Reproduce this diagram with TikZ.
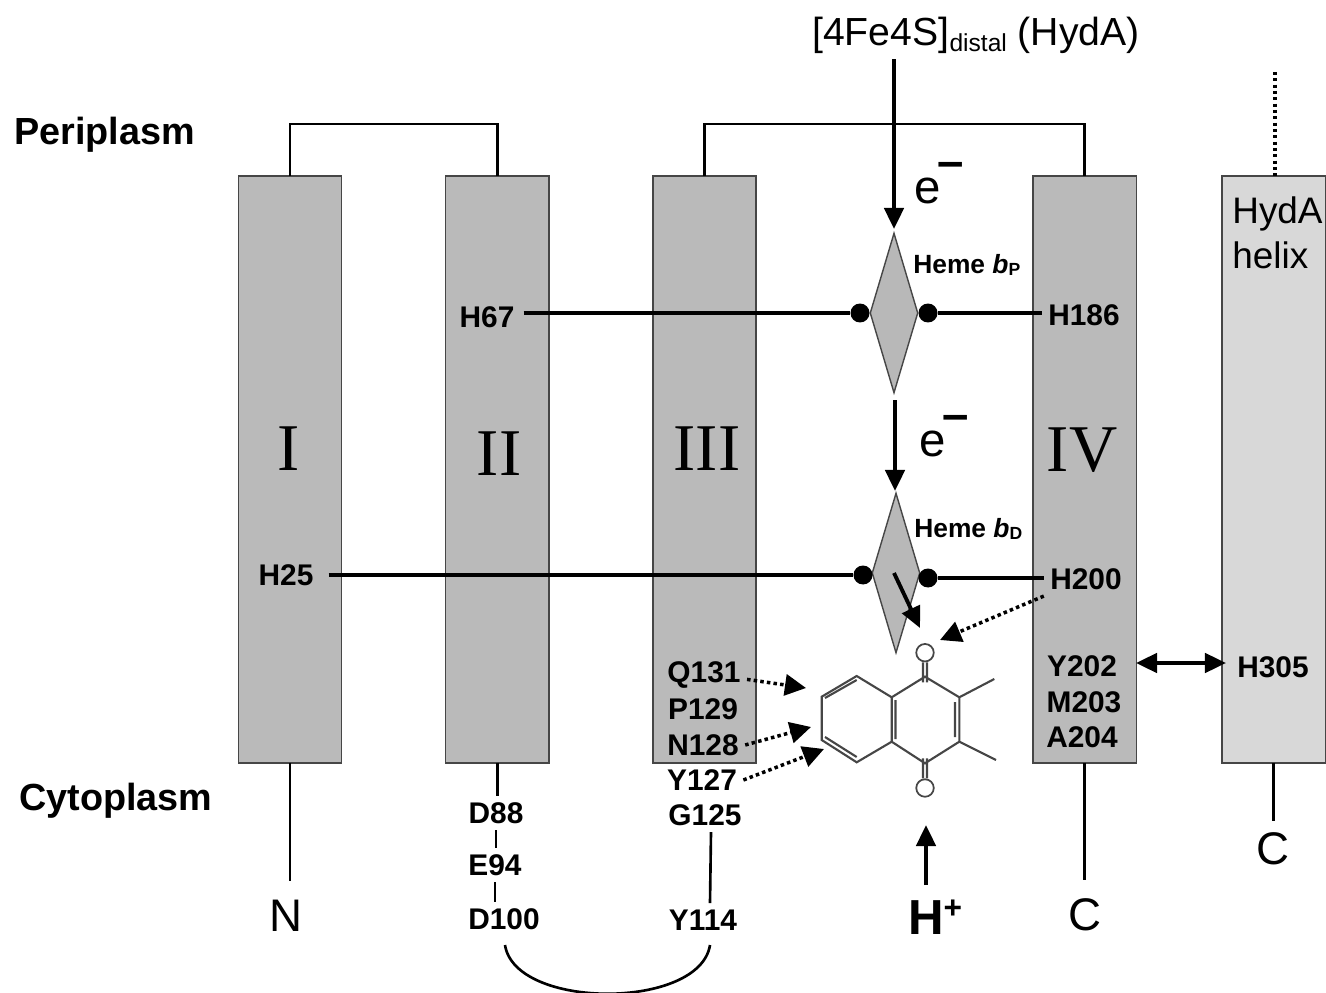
\documentclass[tikz,border=0pt]{standalone}
\usepackage{fontspec}
\setmainfont{Liberation Sans}
\newfontfamily\romanfont{Liberation Serif}
\usetikzlibrary{positioning,arrows.meta,shapes}
\definecolor{helixgray}{RGB}{186,186,186}
\definecolor{hydagray}{RGB}{216,216,216}
\definecolor{hemegray}{RGB}{184,184,184}
\definecolor{edgegray}{RGB}{70,70,70}
\newcommand{\eminus}{e\kern-2pt\raisebox{14.5pt}{\textbf{–}}}
\newcommand{\hemelabel}[1]{Heme \textit{b}{\fontsize{10}{10}\selectfont\raisebox{-1.5pt}{#1}}}

\begin{document}
\begin{tikzpicture}[
      x=0.02cm, y=-0.02cm,
      node distance=2.08cm,
      helix/.style={rectangle, draw=edgegray, line width=0.8pt, fill=helixgray, outer sep=0pt,
                    minimum width=2.065cm, minimum height=11.74cm},
      heme/.style={diamond, draw=edgegray, line width=0.8pt, fill=hemegray, inner sep=0pt,
                   minimum width=0.96cm, minimum height=3.2cm},
      hemedot/.style={circle, fill=black, inner sep=0pt, minimum size=0.38cm},
      residue/.style={font=\fontsize{17}{20}\selectfont\bfseries, inner sep=3.5pt},
      region/.style={font=\fontsize{21.5}{25}\selectfont\bfseries, anchor=west, inner sep=0pt},
      numeral/.style={font=\fontsize{38}{40}\selectfont\romanfont},
      plain/.style={font=\fontsize{26}{30}\selectfont, outer sep=7.5pt},
      heading/.style={font=\fontsize{22.3}{27}\selectfont},
      loopline/.style={line width=1.5pt},
      linkline/.style={line width=2.2pt},
      bond/.style={line width=1.2pt, edgegray},
      arrow/.style={-{Triangle[length=12pt,width=11pt]}, line width=2.2pt},
      dotarrow/.style={-{Triangle[length=12pt,width=12pt]}, line width=2pt,
                       dash pattern=on 2pt off 1.8pt},
      oxygen/.style={circle, draw=edgegray, line width=1pt, fill=white, inner sep=0pt, minimum size=0.35cm}
    ]
    \useasboundingbox (0,0) rectangle (1326,993);

    % --- Helices ---
    \node[helix] (helixI) at (290,469.5) {};
    \node[helix, right=of helixI] (helixII) {};
    \node[helix, right=of helixII] (helixIII) {};
    \node[helix, right=5.54cm of helixIII] (helixIV) {};
    \node[helix, fill=hydagray, right=1.72cm of helixIV] (helixA) {};

    \node[numeral] (numI) at (289,449) {I};
    \node[numeral] (numII) at (499,454) {II};
    \node[numeral] (numIII) at (707,449) {III};
    \node[numeral] (numIV) at (1082,450) {IV};
    \node[font=\fontsize{21}{25.5}\selectfont, align=left, anchor=west, inner sep=0pt] (hydahelix) at (1232,233) {HydA\\helix};

    % --- Region labels ---
    \node[region] (peri) at (14,135) {Periplasm};
    \node[region] (cyto) at (19,801) {Cytoplasm};
    \node[heading] (cluster) at (976,35) {[4Fe4S]{\fontsize{14}{14}\selectfont\raisebox{-3.5pt}{distal}} (HydA)};

    % --- Residues ---
    \node[residue] (h67) at (487,317) {H67};
    \node[residue] (h25) at (286,575) {H25};
    \node[residue] (h186) at (1084,315) {H186};
    \node[residue] (h200) at (1086,579) {H200};
    \node[residue] (y202) at (1082,666) {Y202};
    \node[residue] (m203) at (1084,702) {M203};
    \node[residue] (a204) at (1082,737) {A204};
    \node[residue] (h305) at (1273,667) {H305};
    \node[residue] (q131) at (704,675) {Q131};
    \node[residue] (p129) at (703,709) {P129};
    \node[residue] (n128) at (703,745) {N128};
    \node[residue] (y127) at (702,780) {Y127};
    \node[residue] (g125) at (705,815) {G125};
    \node[residue] (y114) at (703,920) {Y114};
    \node[residue] (d88) at (496,813) {D88};
    \node[residue] (e94) at (495,865) {E94};
    \node[residue] (d100) at (504,919) {D100};

    % --- Termini ---
    \node[plain] (termN) at (286,916) {N};
    \node[plain] (termC) at (1085,915) {C};
    \node[plain, outer sep=3.5pt] (termA) at (1273,849) {C};
    \node[font=\fontsize{28}{32}\selectfont\bfseries] (proton) at (935,917) {H\raisebox{9pt}{\fontsize{18}{18}\selectfont +}};

    % --- Loops ---
    \draw[loopline] (helixI.north) -- ++(0,-52) -| (helixII.north);
    \draw[loopline] (helixIII.north) -- ++(0,-52) -| (helixIV.north);
    \coordinate (hydatop) at (1275,72);
    \draw[line width=1.8pt, dash pattern=on 1.8pt off 1.8pt] (hydatop) -- (hydatop |- helixA.north);
    \draw[loopline] (helixI.south) -- (helixI.south |- termN.north);
    \draw[loopline] (helixII.south) -- (d88.north -| helixII.south);
    \draw[loopline] (d88.south) -- (d88.south |- e94.north);
    \draw[loopline] (e94.south) -- (e94.south |- d100.north);
    \draw[loopline] (g125.south -| 711,0) -- (y114.north -| 710,0);
    \draw[loopline] (helixIV.south) -- (helixIV.south |- termC.north);
    \draw[loopline] (helixA.south) -- (helixA.south |- termA.north);
    \coordinate (loopL) at (505,945);
    \coordinate (loopR) at (710,945);
    \draw[loopline] (loopL) .. controls (515,1010) and (700,1010) .. (loopR);

    % --- Hemes ---
    \node[heme] (hemeP) at (894,313) {};
    \node[heme] (hemeD) at (896,573) {};
    \node[hemedot] (dotPl) at (860,313) {};
    \node[hemedot] (dotPr) at (928,313) {};
    \node[hemedot] (dotDl) at (863,575) {};
    \node[hemedot] (dotDr) at (928,578) {};
    \node[font=\fontsize{15}{18}\selectfont\bfseries, anchor=west, inner sep=0pt] (labelP) at (913,265) {\hemelabel{P}};
    \node[font=\fontsize{15}{18}\selectfont\bfseries, anchor=west, inner sep=0pt] (labelD) at (914,529) {\hemelabel{D}};

    \draw[linkline] ([xshift=1.5pt]h67.east |- dotPl) -- (dotPl);
    \draw[linkline] (dotPr) -- (dotPr -| h186.west);
    \draw[linkline] ([xshift=5pt]h25.east) -- (dotDl);
    \draw[linkline] (dotDr) -- (dotDr -| h200.west);

    % --- Quinone ---
    \coordinate (c1) at (821.7,696.7);
    \coordinate (c2) at (856.7,676);
    \coordinate (c3) at (891.7,697.3);
    \coordinate (c4) at (891.7,741.7);
    \coordinate (c5) at (856.7,762.3);
    \coordinate (c6) at (821.7,740);
    \coordinate (c7) at (925,676.7);
    \coordinate (c8) at (959.3,697.3);
    \coordinate (c9) at (959.3,741.7);
    \coordinate (c10) at (925,763.3);
    \coordinate (me1) at (994.3,679);
    \coordinate (me2) at (996,760);
    \node[oxygen] (oxtop) at (925,652.7) {};
    \node[oxygen] (oxbot) at (925,788) {};
    \draw[bond] (c1) -- (c2) -- (c3) -- (c4) -- (c5) -- (c6) -- cycle
      (c3) -- (c7) -- (c8) -- (c9) -- (c10) -- (c4)
      (c8) -- (me1) (c9) -- (me2)
      (825,698) -- (856.7,680) (825,737) -- (856.7,757)
      (895.5,700) -- (895.5,739) (955,702) -- (955,737)
      (oxtop.south) ++(-2,0) -- ++(0,20) (oxtop.south) ++(2,0) -- ++(0,20)
      (oxbot.north) ++(-2,0) -- ++(0,-20) (oxbot.north) ++(2,0) -- ++(0,-20);

    % --- Arrows ---
    \coordinate (tipP) at (894,229);
    \coordinate (startD) at (895,400);
    \coordinate (tipD) at (895,491);
    \coordinate (startQ) at (894,573);
    \coordinate (tipQ) at (920,628);
    \coordinate (tipH) at (940,640);
    \coordinate (tipQ131) at (806,688);
    \coordinate (tipN128) at (811,727);
    \coordinate (tipY127) at (824,749);
    \coordinate (startProton) at (926,885);
    \coordinate (tipProton) at (926,825);
    \coordinate (startH305) at (1136,663);
    \coordinate (tipH305) at (1226,663);
    \draw[arrow] (cluster.south -| tipP) -- (tipP);
    \draw[arrow] (startD) -- (tipD);
    \draw[arrow] (startQ) -- (tipQ);
    \draw[arrow] (startProton) -- (tipProton);
    \draw[arrow, {Triangle[length=12pt,width=11pt]}-{Triangle[length=12pt,width=11pt]}] (startH305) -- (tipH305);
    \draw[dotarrow] (h200.south west) -- (tipH);
    \draw[dotarrow] ([yshift=-2.5pt]q131.east) -- (tipQ131);
    \draw[dotarrow] (n128.east) -- (tipN128);
    \draw[dotarrow] (y127.east) -- (tipY127);

    \node[font=\fontsize{27}{30}\selectfont, anchor=west, inner sep=0pt] (eP) at (914,183) {\eminus};
    \node[font=\fontsize{27}{30}\selectfont, anchor=west, inner sep=0pt] (eD) at (919,436) {\eminus};
  \end{tikzpicture}
\end{document}
